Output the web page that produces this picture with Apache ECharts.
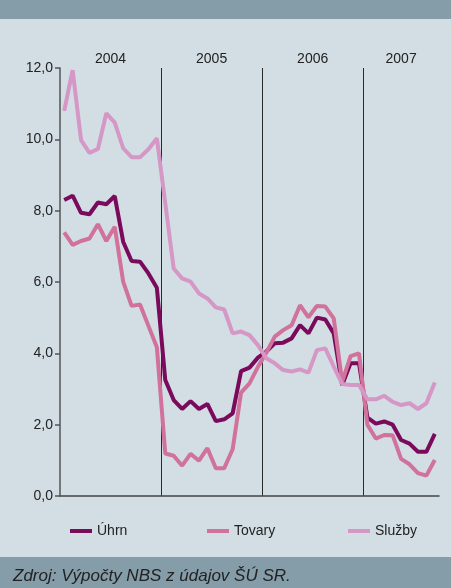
<!DOCTYPE html>
<html>
<head>
<meta charset="utf-8">
<script src="https://cdn.jsdelivr.net/npm/echarts@6.0.0/dist/echarts.min.js"></script>
<style>
  html, body { margin: 0; padding: 0; background: #d3dee4; }
  #chart { width: 451px; height: 588px; }
</style>
</head>
<body>
<div id="chart"></div>
<script>
// mesiace 1/2004 - 9/2007
const months = [
  '2004-01','2004-02','2004-03','2004-04','2004-05','2004-06','2004-07','2004-08','2004-09','2004-10','2004-11','2004-12',
  '2005-01','2005-02','2005-03','2005-04','2005-05','2005-06','2005-07','2005-08','2005-09','2005-10','2005-11','2005-12',
  '2006-01','2006-02','2006-03','2006-04','2006-05','2006-06','2006-07','2006-08','2006-09','2006-10','2006-11','2006-12',
  '2007-01','2007-02','2007-03','2007-04','2007-05','2007-06','2007-07','2007-08','2007-09'
];
const yearLabels = ['2004', '2005', '2006', '2007'];
const yTicks = [0, 2, 4, 6, 8, 10, 12];

const uhrn = [
  8.30, 8.42, 7.94, 7.90, 8.23, 8.18, 8.41, 7.13, 6.59, 6.57, 6.24, 5.84,
  3.25, 2.69, 2.44, 2.66, 2.44, 2.58, 2.10, 2.15, 2.32, 3.50, 3.60, 3.88,
  4.05, 4.28, 4.30, 4.42, 4.79, 4.56, 5.00, 4.95, 4.56, 3.11, 3.72, 3.72,
  2.20, 2.03, 2.09, 2.00, 1.57, 1.47, 1.24, 1.24, 1.74
];
const tovary = [
  7.39, 7.04, 7.15, 7.22, 7.62, 7.15, 7.55, 6.01, 5.33, 5.37, 4.77, 4.17,
  1.19, 1.13, 0.85, 1.18, 0.99, 1.34, 0.78, 0.78, 1.31, 2.90, 3.16, 3.62,
  4.02, 4.47, 4.65, 4.79, 5.35, 5.01, 5.33, 5.31, 4.98, 3.20, 3.92, 4.00,
  2.00, 1.61, 1.71, 1.70, 1.04, 0.89, 0.64, 0.57, 1.01
];
const sluzby = [
  10.80, 11.94, 9.98, 9.62, 9.73, 10.73, 10.47, 9.75, 9.50, 9.50, 9.72, 10.03,
  8.21, 6.38, 6.10, 6.01, 5.68, 5.54, 5.29, 5.23, 4.56, 4.61, 4.51, 4.23,
  3.86, 3.72, 3.53, 3.49, 3.55, 3.46, 4.09, 4.14, 3.63, 3.14, 3.11, 3.11,
  2.71, 2.71, 2.81, 2.64, 2.55, 2.60, 2.44, 2.60, 3.18
];

const FONT = '"Liberation Sans", Arial, sans-serif';
const colors = { uhrn: '#7a0a5c', tovary: '#d0729b', sluzby: '#d597c5' };

// stred kazdeho roka na osi (v jednotkach mesiacov)
const yearCenters = yearLabels.map(y => {
  const idx = months.map((m, i) => m.startsWith(y) ? i : -1).filter(i => i >= 0);
  return (idx[0] + idx[idx.length - 1] + 1) / 2;
});

const chart = echarts.init(document.getElementById('chart'), null, { renderer: 'canvas' });

const legendBase = {
  top: 524,
  padding: 0,
  itemWidth: 22,
  itemHeight: 4,
  icon: 'rect',
  itemGap: 6,
  textStyle: { color: '#222', fontSize: 14, fontFamily: FONT },
};

const option = {
  backgroundColor: '#d3dee4',
  animation: false,
  grid: { left: 60, right: 12, top: 68, bottom: 92 },
  legend: [
    Object.assign({ left: 70, data: ['Úhrn'] }, legendBase),
    Object.assign({ left: 207, data: ['Tovary'] }, legendBase),
    Object.assign({ left: 348, data: ['Služby'] }, legendBase),
  ],
  xAxis: [
    {
      type: 'category',
      data: months,
      boundaryGap: true,
      axisLine: { lineStyle: { color: '#444', width: 1.5 } },
      axisTick: { show: false },
      axisLabel: { show: false },
      // ciary medzi rokmi
      splitLine: {
        show: true,
        showMinLine: true,
        showMaxLine: false,
        interval: (index) => index > 0 && index % 12 === 0,
        lineStyle: { color: '#2a2a2a', width: 1 },
      },
    },
    {
      type: 'value',
      position: 'top',
      min: 0,
      max: months.length,
      axisLine: { show: false },
      axisTick: { show: false },
      splitLine: { show: false },
      axisLabel: {
        customValues: yearCenters,
        margin: 2,
        color: '#222',
        fontSize: 14,
        fontFamily: FONT,
        formatter: (v) => {
          const i = yearCenters.findIndex(c => Math.abs(c - v) < 0.01);
          return i >= 0 ? yearLabels[i] : '';
        },
      },
    },
  ],
  yAxis: {
    type: 'value',
    min: yTicks[0],
    max: yTicks[yTicks.length - 1],
    interval: 2,
    axisLine: { show: true, lineStyle: { color: '#555', width: 1.5 } },
    axisTick: { show: true, inside: false, length: 5, lineStyle: { color: '#555', width: 1.5 } },
    splitLine: { show: false },
    axisLabel: {
      margin: 7,
      color: '#222',
      fontSize: 14,
      fontFamily: FONT,
      formatter: (v) => v.toFixed(1).replace('.', ','),
    },
  },
  series: [
    {
      name: 'Úhrn', type: 'line', data: uhrn, symbol: 'none',
      lineStyle: { color: colors.uhrn, width: 4 }, itemStyle: { color: colors.uhrn },
    },
    {
      name: 'Tovary', type: 'line', data: tovary, symbol: 'none',
      lineStyle: { color: colors.tovary, width: 4 }, itemStyle: { color: colors.tovary },
    },
    {
      name: 'Služby', type: 'line', data: sluzby, symbol: 'none',
      lineStyle: { color: colors.sluzby, width: 4 }, itemStyle: { color: colors.sluzby },
    },
  ],
  graphic: [
    { type: 'rect', left: 0, top: 0, shape: { width: 451, height: 19 }, style: { fill: '#859ca9' } },
    { type: 'rect', left: 0, top: 557, shape: { width: 451, height: 31 }, style: { fill: '#859ca9' } },
    {
      type: 'text', left: 13, top: 568,
      style: {
        text: 'Zdroj: Výpočty NBS z údajov ŠÚ SR.',
        fill: '#222', font: 'italic 17px "Liberation Sans", Arial, sans-serif',
      },
    },
  ],
};

chart.setOption(option);
</script>
</body>
</html>
